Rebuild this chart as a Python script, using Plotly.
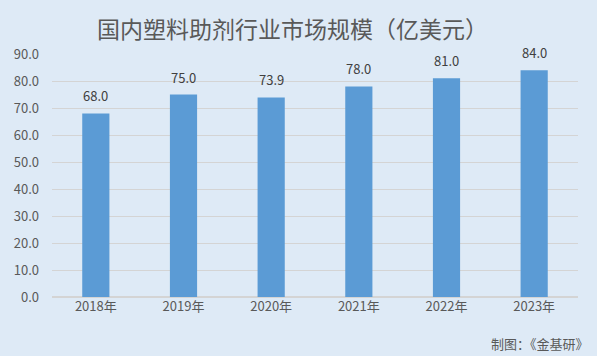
import plotly.graph_objects as go

years = ["2018年", "2019年", "2020年", "2021年", "2022年", "2023年"]
values = [68.0, 75.0, 73.9, 78.0, 81.0, 84.0]
y_ticks = [0, 10, 20, 30, 40, 50, 60, 70, 80, 90]

font = "Microsoft YaHei, Noto Sans CJK SC, sans-serif"
bg = "#DEEAF6"

fig = go.Figure(go.Bar(
    x=years, y=values,
    marker=dict(color="#5B9BD5", line=dict(width=0)),
    hoverinfo="skip",
))

annotations = [dict(x=yr, y=v, xref="x", yref="y", text=f"{v:.1f}", showarrow=False,
                    yanchor="bottom", yshift=6,
                    font=dict(size=13, color="#404040", family=font))
               for yr, v in zip(years, values)]
annotations.append(dict(text="制图：《金基研》", xref="paper", yref="paper",
                        x=1.025, y=-0.19, xanchor="right", yanchor="middle",
                        showarrow=False, font=dict(size=13, color="#595959", family=font)))

fig.update_layout(
    width=597, height=356,
    paper_bgcolor=bg, plot_bgcolor=bg,
    margin=dict(l=52, r=19, t=54, b=59),
    bargap=0.69,
    showlegend=False,
    title=dict(text="国内塑料助剂行业市场规模（亿美元）", x=0.49, xanchor="center",
               y=0.915, yanchor="middle",
               font=dict(size=23, color="#595959", family=font)),
    font=dict(family=font, color="#595959", size=13),
    annotations=annotations,
)
fig.update_yaxes(range=[0, 90], tickvals=y_ticks, ticktext=[f"{t:.1f}" for t in y_ticks],
                 showgrid=True, gridcolor="#D4D4D4", gridwidth=1, zeroline=True,
                 zerolinecolor="#D4D4D4", ticks="", showline=False, automargin=False,
                 tickfont=dict(size=13, color="#595959"), ticklabelstandoff=12)
fig.update_xaxes(showgrid=False, showline=False, ticks="", automargin=False,
                 tickfont=dict(size=13, color="#595959"))

fig.write_html("out.html", config={"displayModeBar": False},
               post_script="document.body.style.margin='0';document.body.style.background='#DEEAF6';")
